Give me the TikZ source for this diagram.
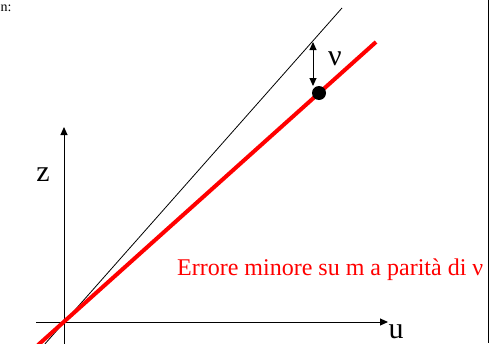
\documentclass[tikz,border=0pt]{standalone}
\usepackage{fontspec}
\setmainfont{Liberation Serif}
\usetikzlibrary{arrows.meta}
\begin{document}
\begin{tikzpicture}[x=1pt,y=-1pt,
  axis/.style={line width=1pt,-{Triangle[length=8pt,width=7pt]}},
  thinline/.style={line width=0.8pt},
  redline/.style={red,line width=4pt},
  biglabel/.style={font=\fontsize{30}{30}\selectfont,inner sep=0pt,anchor=base},
  dim/.style={line width=1pt,{Triangle[length=8pt,width=7pt]}-{Triangle[length=8pt,width=7pt]}}]
\useasboundingbox (0,0) rectangle (490,343);
\clip (0,0) rectangle (490,343);
% coordinates
\coordinate (O) at (63.5,322);
\coordinate (xstart) at (36,322);
\coordinate (xend) at (388,322);
\coordinate (ystart) at (64,345);
\coordinate (yend) at (64,127);
\coordinate (blo) at (44,345);
\coordinate (bhi) at (342,8);
\coordinate (rlo) at (38,345);
\coordinate (rhi) at (376,42);
\coordinate (atop) at (313,42);
\coordinate (abot) at (313,86);
% right border
\draw[line width=1.5pt] (488.5,0) -- (488.5,343);
% header text
\node[font=\fontsize{14}{14}\selectfont,inner sep=0pt,anchor=base west] (hdr) at (0.5,11) {n:};
% axes
\draw[axis] (xstart) -- (xend);
\draw[axis] (ystart) -- (yend);
% lines
\draw[thinline] (blo) -- (bhi);
\draw[redline] (rlo) -- (rhi);
% dot
\fill (319,93) circle (7pt) node (dot) {};
% dimension arrow
\draw[dim] (atop) -- (abot);
% labels
\node[biglabel] (nu) at (335,65) {ν};
\node[biglabel] (z) at (43,181) {z};
\node[biglabel] (u) at (396,338) {u};
\node[font=\fontsize{24}{24}\selectfont,text=red,inner sep=0pt,anchor=base west] (err) at (177,275) {Errore minore su m a parità di ν};
\end{tikzpicture}
\end{document}
